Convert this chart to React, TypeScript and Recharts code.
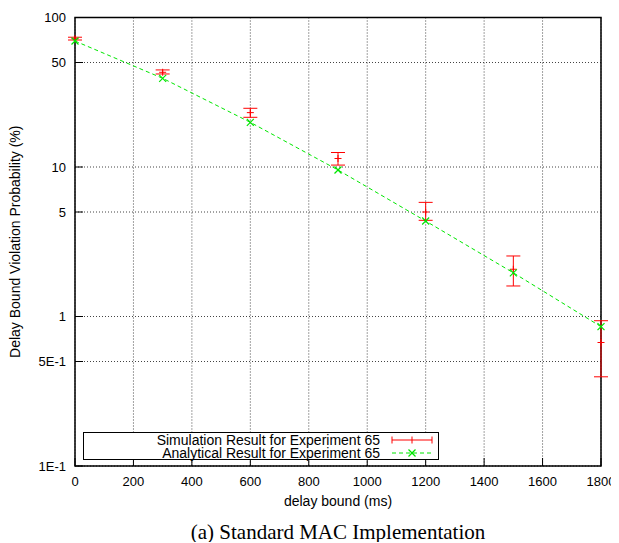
import React from 'react';
import {
  ComposedChart, Line, Scatter, ErrorBar, XAxis, YAxis, CartesianGrid,
  ReferenceArea, Legend, Label,
} from 'recharts';

// delay bound (ms)
const delayBounds = [0, 300, 600, 900, 1200, 1500, 1800];
// simulation result (%) with the low / high end of each error bar
const simValues = [72.1, 43.0, 23.1, 11.4, 5.0, 2.07, 0.67];
const simLow = [70.7, 41.9, 21.5, 10.3, 4.4, 1.6, 0.395];
const simHigh = [73.8, 44.6, 24.7, 12.5, 5.8, 2.54, 0.937];
// analytical result (%)
const analyticValues = [69.6, 39.2, 19.9, 9.55, 4.35, 1.96, 0.855];

const xTicks = [0, 200, 400, 600, 800, 1000, 1200, 1400, 1600, 1800];
const yTicks = [0.1, 0.5, 1, 5, 10, 50, 100];
const yTickLabels: Record<string, string> = {
  '0.1': '1E-1', '0.5': '5E-1', '1': '1', '5': '5', '10': '10', '50': '50', '100': '100',
};

const simData = delayBounds.map((x, i) => ({
  x,
  y: simValues[i],
  err: [simValues[i] - simLow[i], simHigh[i] - simValues[i]],
}));
const analyticData = delayBounds.map((x, i) => ({ x, y: analyticValues[i] }));

const FONT = '"Liberation Sans", Arial, Helvetica, sans-serif';
const RED = '#ff0000';
const GREEN = '#00e600';
const TICK = 8;

const BottomTick = ({ x, y, payload }: any) => (
  <g>
    <line x1={x} y1={y} x2={x} y2={y - TICK} stroke="#000" />
    <text x={x} y={y + 20} textAnchor="middle" fontSize={13} fontFamily={FONT} fill="#000">
      {payload.value}
    </text>
  </g>
);

const TopTick = ({ x, y }: any) => (
  <line x1={x} y1={y} x2={x} y2={y + TICK} stroke="#000" />
);

const LeftTick = ({ x, y, payload }: any) => (
  <g>
    <line x1={x} y1={y} x2={x + TICK} y2={y} stroke="#000" />
    <text x={x - 9} y={y + 4.5} textAnchor="end" fontSize={13} fontFamily={FONT} fill="#000">
      {yTickLabels[String(payload.value)]}
    </text>
  </g>
);

const RightTick = ({ x, y }: any) => (
  <line x1={x} y1={y} x2={x - TICK} y2={y} stroke="#000" />
);

const PlusShape = ({ cx, cy }: any) => (
  <g stroke={RED} strokeWidth={1}>
    <line x1={cx - 3.5} y1={cy} x2={cx + 3.5} y2={cy} />
    <line x1={cx} y1={cy - 3.5} x2={cx} y2={cy + 3.5} />
  </g>
);

const CrossDot = ({ cx, cy }: any) => (
  <g stroke={GREEN} strokeWidth={1.2}>
    <line x1={cx - 3.5} y1={cy - 3.5} x2={cx + 3.5} y2={cy + 3.5} />
    <line x1={cx - 3.5} y1={cy + 3.5} x2={cx + 3.5} y2={cy - 3.5} />
  </g>
);

const LegendBox = () => (
  <div
    style={{
      border: '1px solid #000',
      background: '#fff',
      width: 356,
      height: 28,
      boxSizing: 'border-box',
      fontFamily: FONT,
      fontSize: 14,
      lineHeight: '13px',
      position: 'relative',
    }}
  >
    <div style={{ position: 'absolute', right: 58, top: 1, whiteSpace: 'nowrap' }}>
      Simulation Result for Experiment 65
    </div>
    <div style={{ position: 'absolute', right: 58, top: 14, whiteSpace: 'nowrap' }}>
      Analytical Result for Experiment 65
    </div>
    <svg width={44} height={28} style={{ position: 'absolute', left: 306, top: -1 }}>
      <g stroke={RED}>
        <line x1={2} y1={8} x2={42} y2={8} />
        <line x1={2} y1={4.5} x2={2} y2={11.5} />
        <line x1={42} y1={4.5} x2={42} y2={11.5} />
        <line x1={22} y1={4.5} x2={22} y2={11.5} />
      </g>
      <line x1={2} y1={21} x2={42} y2={21} stroke={GREEN} strokeDasharray="4 3" />
      <g stroke={GREEN} strokeWidth={1.2}>
        <line x1={18.5} y1={17.5} x2={25.5} y2={24.5} />
        <line x1={18.5} y1={24.5} x2={25.5} y2={17.5} />
      </g>
    </svg>
  </div>
);

export default function App() {
  return (
    <div style={{ width: 603, fontFamily: FONT }}>
      <ComposedChart
        width={611}
        height={510}
        margin={{ top: 9.5, right: 18, bottom: 0, left: 0 }}
      >
        <CartesianGrid
          xAxisId="bottom"
          yAxisId="left"
          stroke="#444"
          strokeDasharray="1 2"
        />
        <XAxis
          xAxisId="bottom"
          dataKey="x"
          type="number"
          domain={[0, 1800]}
          ticks={xTicks}
          interval={0}
          height={52}
          tickSize={0}
          tickMargin={0}
          axisLine={false}
          tickLine={false}
          tick={<BottomTick />}
        >
          <Label
            content={({ viewBox }: any) => (
              <text
                x={viewBox.x + viewBox.width / 2}
                y={viewBox.y + 40}
                textAnchor="middle"
                fontSize={14}
                fontFamily={FONT}
                fill="#000"
              >
                delay bound (ms)
              </text>
            )}
          />
        </XAxis>
        <XAxis
          xAxisId="top"
          orientation="top"
          dataKey="x"
          type="number"
          domain={[0, 1800]}
          ticks={xTicks}
          interval={0}
          height={0}
          tickSize={0}
          tickMargin={0}
          axisLine={false}
          tickLine={false}
          tick={<TopTick />}
        />
        <YAxis
          yAxisId="left"
          scale="log"
          domain={[0.1, 100]}
          allowDataOverflow
          ticks={yTicks}
          interval={0}
          width={67}
          tickSize={0}
          tickMargin={0}
          axisLine={false}
          tickLine={false}
          tick={<LeftTick />}
        >
          <Label
            content={({ viewBox }: any) => {
              const cy = viewBox.y + viewBox.height / 2;
              return (
                <text
                  x={12}
                  y={cy}
                  transform={`rotate(-90 12 ${cy})`}
                  textAnchor="middle"
                  fontSize={14}
                  fontFamily={FONT}
                  fill="#000"
                >
                  Delay Bound Violation Probability (%)
                </text>
              );
            }}
          />
        </YAxis>
        <YAxis
          yAxisId="right"
          orientation="right"
          scale="log"
          domain={[0.1, 100]}
          allowDataOverflow
          ticks={yTicks}
          interval={0}
          width={0}
          tickSize={0}
          tickMargin={0}
          axisLine={false}
          tickLine={false}
          tick={<RightTick />}
        />
        <ReferenceArea
          xAxisId="bottom"
          yAxisId="left"
          x1={0}
          x2={1800}
          y1={0.1}
          y2={100}
          fill="none"
          stroke="#000"
          strokeWidth={1.5}
        />
        <Line
          xAxisId="bottom"
          yAxisId="left"
          data={analyticData}
          dataKey="y"
          type="linear"
          stroke={GREEN}
          strokeDasharray="4 3"
          strokeWidth={1}
          dot={<CrossDot />}
          activeDot={false}
          isAnimationActive={false}
          name="Analytical Result for Experiment 65"
        />
        <Scatter
          xAxisId="bottom"
          yAxisId="left"
          data={simData}
          dataKey="y"
          fill={RED}
          shape={<PlusShape />}
          isAnimationActive={false}
          name="Simulation Result for Experiment 65"
        >
          <ErrorBar dataKey="err" direction="y" width={7} stroke={RED} strokeWidth={1} />
        </Scatter>
        <Legend
          layout="horizontal"
          verticalAlign="middle"
          align="center"
          content={<LegendBox />}
          wrapperStyle={{ left: 75, top: 424, width: 356, height: 28 }}
        />
      </ComposedChart>
      <div
        style={{
          marginLeft: 67,
          width: 526,
          marginTop: 4,
          textAlign: 'center',
          fontFamily: '"Liberation Serif", "Times New Roman", serif',
          fontSize: 21,
          lineHeight: '20px',
          color: '#000',
        }}
      >
        (a) Standard MAC Implementation
      </div>
    </div>
  );
}
